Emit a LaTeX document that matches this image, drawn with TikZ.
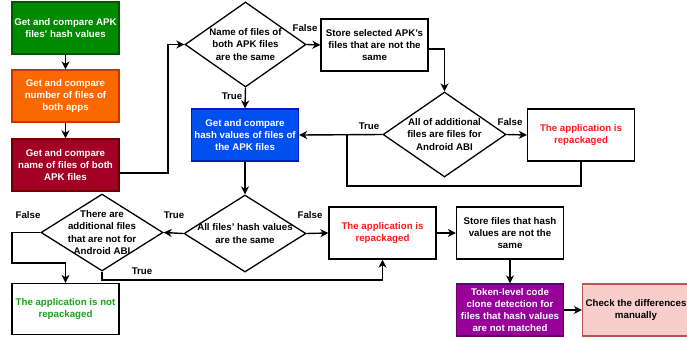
\documentclass[tikz,border=0pt]{standalone}
\usepackage{fontspec}
\setmainfont{Liberation Sans}
\usetikzlibrary{shapes.geometric,arrows.meta,positioning}
\definecolor{gfill}{HTML}{008A00}\definecolor{gline}{HTML}{005700}
\definecolor{ofill}{HTML}{FA6800}\definecolor{oline}{HTML}{C73500}
\definecolor{rfill}{HTML}{A20025}\definecolor{rline}{HTML}{6F0000}
\definecolor{bfill}{HTML}{0050EF}\definecolor{bline}{HTML}{001DBC}
\definecolor{pfill}{HTML}{990099}\definecolor{pline}{HTML}{660066}
\definecolor{kfill}{HTML}{F8CECC}\definecolor{kline}{HTML}{B85450}
\definecolor{redtxt}{HTML}{FF1A1A}
\definecolor{greentxt}{HTML}{1AA31A}
\newcommand{\apos}{{\char"27}}
\tikzset{
  base/.style={font=\fontsize{9.7}{12.3}\selectfont\bfseries, align=center},
  box/.style={base, draw, line width=1.3pt, minimum width=107pt, minimum height=52pt, inner sep=0pt},
  dia/.style={diamond, draw, line width=1.3pt, inner sep=0pt},
  dtxt/.style={base},
  lbl/.style={base},
  arr/.style={line width=1.4pt, -{Stealth[length=8pt,width=8pt,inset=2.5pt]}},
  ln/.style={line width=1.4pt},
}
\begin{document}
\begin{tikzpicture}[x=1pt,y=-1pt]
\useasboundingbox (0,0) rectangle (687,338);
\clip (0,0) rectangle (687,338);
\fill[white] (0,0) rectangle (687,338);
% boxes
\node[box, fill=gfill, draw=gline, text=white] (b1) at (65.5,28) {Get and compare APK\\files\apos{} hash values};
\node[box, fill=ofill, draw=oline, text=white] (b2) at (65.5,96) {Get and compare\\number of files of\\both apps};
\node[box, fill=rfill, draw=rline, text=white] (b3) at (65.5,165) {Get and compare\\name of files of both\\APK files};
\node[dia, minimum width=121pt, minimum height=85pt, label={[dtxt]center:{Name of files of\\both APK files\\are the same}}] (d1) at (245.5,44.5) {};
\node[box] (s1) at (374.5,45) {Store selected APK\apos{}s\\files that are not the\\same};
\node[dia, minimum width=123pt, minimum height=85pt, label={[dtxt]center:{All of additional\\files are files for\\Android ABI}}] (d2) at (444.5,134.5) {};
\node[box, text=redtxt] (r1) at (581,135) {The application is\\repackaged};
\node[box, fill=bfill, draw=bline, text=white] (bl) at (245,135) {Get and compare\\hash values of files of\\the APK files};
\node[dia, minimum width=122pt, minimum height=77pt, label={[dtxt]center:{All files\apos{} hash values\\are the same}}] (d3) at (245,233.5) {};
\node[dia, minimum width=122pt, minimum height=77pt, label={[dtxt]center:{There are\\additional files\\that are not for\\Android ABI}}] (d4) at (102,232.5) {};
\node[box, text=greentxt, minimum height=51pt] (nr) at (65.5,309) {The application is not\\repackaged};
\node[box, text=redtxt] (r2) at (382.5,233) {The application is\\repackaged};
\node[box] (s2) at (510,233) {Store files that hash\\values are not the\\same};
\node[box, fill=pfill, draw=pline, text=white] (tk) at (510,310) {Token-level code\\clone detection for\\files that hash values\\are not matched};
\node[box, fill=kfill, draw=kline] (ck) at (636,310) {Check the differences\\manually};
% helper coordinates
\coordinate (c3a) at (119.5,173);
\coordinate (c3b) at (168,173);
\coordinate (c3c) at (168,44.5);
\coordinate (s1a) at (428,49);
\coordinate (s1b) at (444.5,49);
\coordinate (r1a) at (581,186);
\coordinate (r1b) at (347,186);
\coordinate (r1c) at (347,134.5);
\coordinate (d4a) at (12,232.5);
\coordinate (d4b) at (12,263);
\coordinate (d4c) at (65.5,263);
\coordinate (d4d) at (102,280);
\coordinate (d4e) at (382.5,280);
% connectors
\draw[arr] (b1) -- (b2);
\draw[arr] (b2) -- (b3);
\draw[arr] (c3a) -- (c3b) -- (c3c) -- (d1.west);
\draw[arr] (d1.east) -- (s1.west);
\draw[arr] (d1.south) -- (bl.north);
\draw[arr] (s1a) -- (s1b) -- (d2.north);
\draw[arr] (d2.east) -- (r1.west);
\draw[arr] (d2.west) -- (bl.east);
\draw[ln] (r1.south) -- (r1a) -- (r1b) -- (r1c);
\draw[arr] (bl.south) -- (d3.north);
\draw[arr] (d3.west) -- (d4.east);
\draw[arr] (d4.west) -- (d4a) -- (d4b) -- (d4c) -- (nr.north);
\draw[arr] (d4.south) -- (d4d) -- (d4e) -- (r2.south);
\draw[arr] (d3.east) -- (r2.west);
\draw[arr] (r2.east) -- (s2.west);
\draw[arr] (s2.south) -- (tk.north);
\draw[arr] (tk.east) -- (ck.west);
% labels
\node[lbl] (l1) at (305,28) {False};
\node[lbl] (l2) at (232,96) {True};
\node[lbl] (l3) at (369,126) {True};
\node[lbl] (l4) at (510,122) {False};
\node[lbl] (l5) at (28,215) {False};
\node[lbl] (l6) at (174,215) {True};
\node[lbl] (l7) at (310,215) {False};
\node[lbl] (l8) at (142,271) {True};
\end{tikzpicture}
\end{document}
